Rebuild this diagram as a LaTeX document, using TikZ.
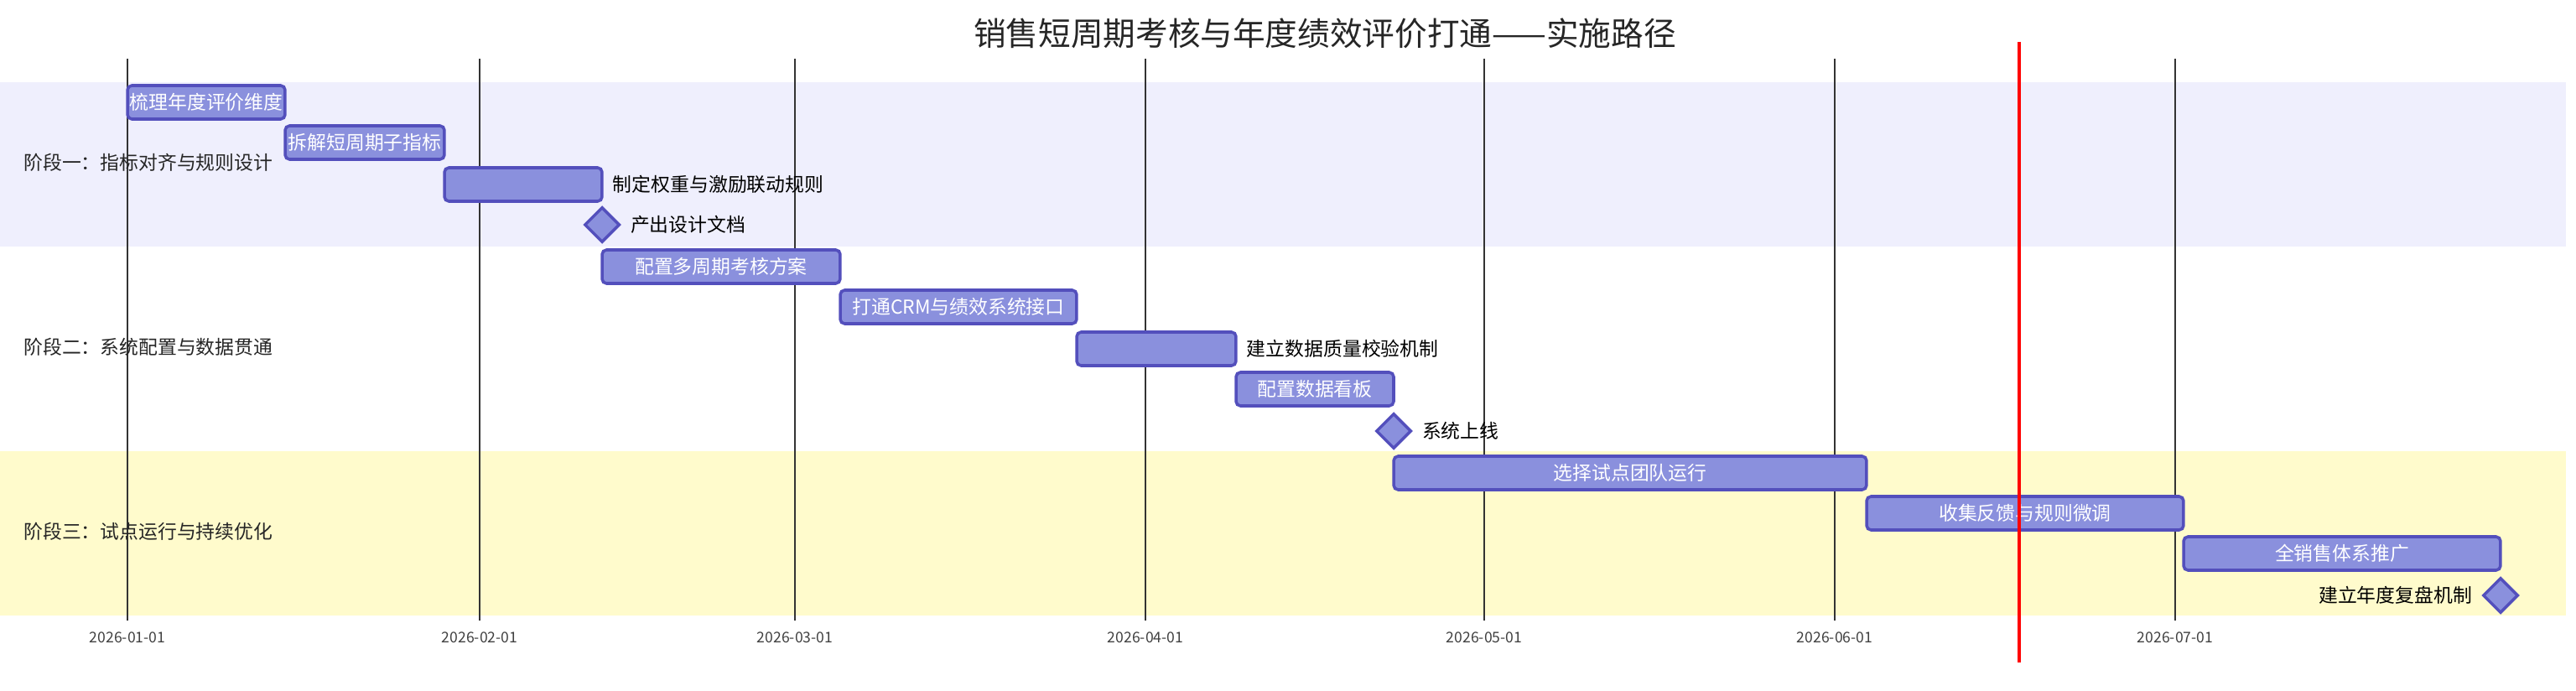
\documentclass[tikz,border=0pt]{standalone}
\usepackage{fontspec}
\setmainfont{Noto Sans CJK SC}
\usetikzlibrary{positioning,shapes.geometric}
\definecolor{barfill}{HTML}{8A90DD}
\definecolor{barline}{HTML}{534FBC}
\definecolor{bandone}{HTML}{EFEFFD}
\definecolor{bandthree}{HTML}{FFFBCC}
\tikzset{
  task/.style={draw=barline, fill=barfill, line width=1pt, rounded corners=1.5pt,
    minimum height=0.4cm, inner sep=0pt, text=white, font=\fontsize{6.5}{7}\selectfont},
  milestone/.style={draw=barline, fill=barfill, line width=1pt, diamond,
    minimum width=0.42cm, minimum height=0.42cm, inner sep=0pt},
  outlabel/.style={font=\fontsize{6.5}{7}\selectfont, inner sep=1pt},
  mslabel/.style={font=\fontsize{6.5}{7}\selectfont\itshape, inner sep=1pt},
  sectlabel/.style={font=\fontsize{6.5}{7}\selectfont, text=black!85, anchor=west},
  gridline/.style={draw=black!80, line width=0.5pt},
  ticklabel/.style={font=\fontsize{5}{6}\selectfont, text=black!75}
}
\begin{document}
\begin{tikzpicture}[x=0.02cm, y=-0.02cm]
  \useasboundingbox (0,0) rectangle (1536,412);
  % section bands
  \fill[bandone] (0,49) rectangle (1530,147);
  \fill[bandthree] (0,269) rectangle (1530,367);
  \node[font=\fontsize{11}{13}\selectfont, text=black!85] (title) at (790,20) {销售短周期考核与年度绩效评价打通——实施路径};
  % month grid
  \foreach \gx/\gd in {76/2026-01-01, 286/2026-02-01, 474/2026-03-01, 683/2026-04-01,
                       885/2026-05-01, 1094/2026-06-01, 1297/2026-07-01} {
    \draw[gridline] (\gx,35) -- (\gx,370);
    \node[ticklabel] at (\gx,380) {\gd};
  }
  \node[sectlabel] (s1) at (8,97)  {阶段一：指标对齐与规则设计};
  \node[sectlabel] (s2) at (8,207) {阶段二：系统配置与数据贯通};
  \node[sectlabel] (s3) at (8,317) {阶段三：试点运行与持续优化};
  % tasks
  \node[task, minimum width=1.88cm] (t1) at (123,61)    {梳理年度评价维度};
  \node[task, minimum width=1.90cm] (t2) at (217.5,85)  {拆解短周期子指标};
  \node[task, minimum width=1.88cm] (t3) at (312,110)   {};
  \node[outlabel, right=2pt of t3] (t3l) {制定权重与激励联动规则};
  \node[milestone] (m1) at (359,134) {};
  \node[mslabel, right=2pt of m1] (m1l) {产出设计文档};
  \node[task, minimum width=2.84cm] (t5) at (430,159)   {配置多周期考核方案};
  \node[task, minimum width=2.82cm] (t6) at (571.5,183) {打通CRM与绩效系统接口};
  \node[task, minimum width=1.90cm] (t7) at (689.5,208) {};
  \node[outlabel, right=2pt of t7] (t7l) {建立数据质量校验机制};
  \node[task, minimum width=1.88cm] (t8) at (784,232)   {配置数据看板};
  \node[milestone] (m2) at (831,257) {};
  \node[mslabel, right=2pt of m2] (m2l) {系统上线};
  \node[task, minimum width=5.64cm] (t10) at (972,282)   {选择试点团队运行};
  \node[task, minimum width=3.78cm] (t11) at (1207.5,306) {收集反馈与规则微调};
  \node[task, minimum width=3.78cm] (t12) at (1396.5,330) {全销售体系推广};
  \node[milestone] (m3) at (1491,355) {};
  \node[mslabel, left=2pt of m3] (m3l) {建立年度复盘机制};
  % today marker
  \draw[red, line width=1.2pt] (1204,25) -- (1204,395);
\end{tikzpicture}
\end{document}
